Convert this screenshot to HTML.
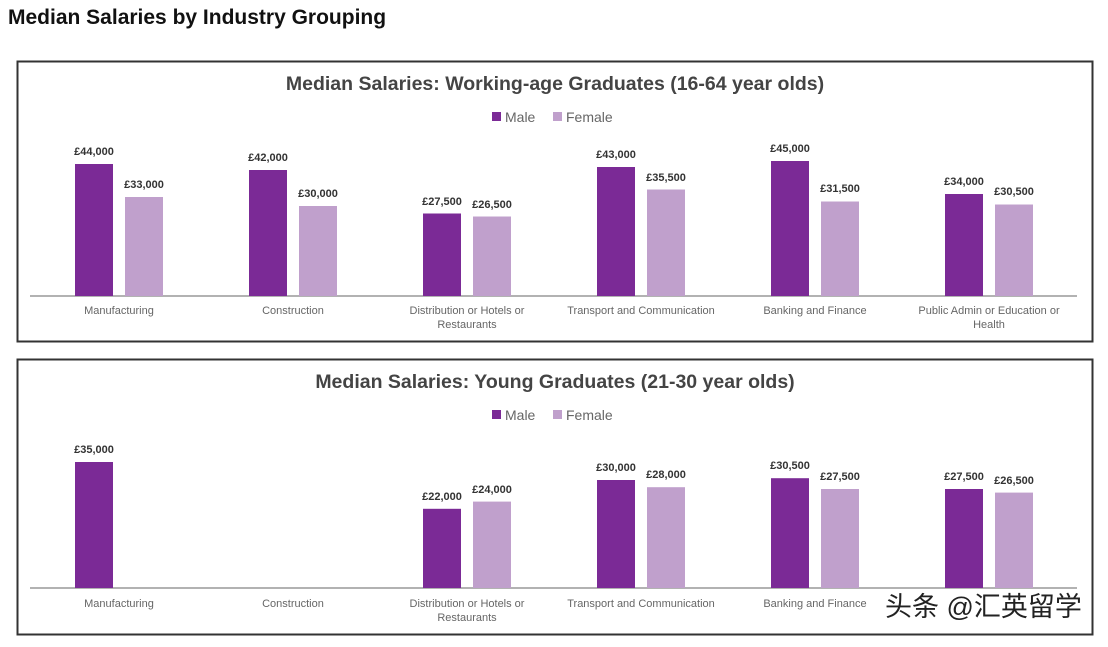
<!DOCTYPE html>
<html><head><meta charset="utf-8"><style>
body{margin:0;width:1108px;height:642px;background:#fff;overflow:hidden;font-family:"Liberation Sans",sans-serif;}
</style></head><body>
<svg width="1108" height="642" xmlns="http://www.w3.org/2000/svg" font-family="Liberation Sans, sans-serif">
<text x="8" y="24" font-size="21" font-weight="bold" fill="#111">Median Salaries by Industry Grouping</text>
<rect x="17.5" y="61.5" width="1075" height="280" fill="#fff" stroke="#333" stroke-width="2"/>
<rect x="17.5" y="359.5" width="1075" height="275" fill="#fff" stroke="#333" stroke-width="2"/>
<g font-weight="bold" fill="#444" text-anchor="middle" font-size="19.5">
<text x="555" y="90">Median Salaries: Working-age Graduates (16-64 year olds)</text>
<text x="555" y="388">Median Salaries: Young Graduates (21-30 year olds)</text>
</g>
<g font-size="14" fill="#666">
<rect x="492" y="112" width="9" height="9" fill="#7b2a96"/><text x="505" y="122">Male</text>
<rect x="553" y="112" width="9" height="9" fill="#c0a0cc"/><text x="566" y="122">Female</text>
<rect x="492" y="410" width="9" height="9" fill="#7b2a96"/><text x="505" y="420">Male</text>
<rect x="553" y="410" width="9" height="9" fill="#c0a0cc"/><text x="566" y="420">Female</text>
</g>
<line x1="30" y1="296" x2="1077" y2="296" stroke="#666" stroke-width="1"/>
<line x1="30" y1="588" x2="1077" y2="588" stroke="#666" stroke-width="1"/>
<g fill="#7b2a96">
<rect x="75" y="164" width="38" height="132"/>
<rect x="249" y="170" width="38" height="126"/>
<rect x="423" y="213.5" width="38" height="82.5"/>
<rect x="597" y="167" width="38" height="129"/>
<rect x="771" y="161" width="38" height="135"/>
<rect x="945" y="194" width="38" height="102"/>
<rect x="75" y="462" width="38" height="126"/>
<rect x="423" y="508.8" width="38" height="79.2"/>
<rect x="597" y="480" width="38" height="108"/>
<rect x="771" y="478.2" width="38" height="109.8"/>
<rect x="945" y="489" width="38" height="99"/>
</g>
<g fill="#c0a0cc">
<rect x="125" y="197" width="38" height="99"/>
<rect x="299" y="206" width="38" height="90"/>
<rect x="473" y="216.5" width="38" height="79.5"/>
<rect x="647" y="189.5" width="38" height="106.5"/>
<rect x="821" y="201.5" width="38" height="94.5"/>
<rect x="995" y="204.5" width="38" height="91.5"/>
<rect x="473" y="501.6" width="38" height="86.4"/>
<rect x="647" y="487.2" width="38" height="100.8"/>
<rect x="821" y="489" width="38" height="99"/>
<rect x="995" y="492.6" width="38" height="95.4"/>
</g>
<g font-size="11" font-weight="bold" fill="#333" text-anchor="middle">
<text x="94" y="155">£44,000</text><text x="144" y="188">£33,000</text>
<text x="268" y="161">£42,000</text><text x="318" y="197">£30,000</text>
<text x="442" y="205">£27,500</text><text x="492" y="208">£26,500</text>
<text x="616" y="158">£43,000</text><text x="666" y="181">£35,500</text>
<text x="790" y="152">£45,000</text><text x="840" y="192">£31,500</text>
<text x="964" y="185">£34,000</text><text x="1014" y="195">£30,500</text>
<text x="94" y="453">£35,000</text>
<text x="442" y="500">£22,000</text><text x="492" y="493">£24,000</text>
<text x="616" y="471">£30,000</text><text x="666" y="478">£28,000</text>
<text x="790" y="469">£30,500</text><text x="840" y="480">£27,500</text>
<text x="964" y="480">£27,500</text><text x="1014" y="484">£26,500</text>
</g>
<g font-size="11" fill="#666" text-anchor="middle">
<text x="119" y="314">Manufacturing</text><text x="293" y="314">Construction</text>
<text x="467" y="314">Distribution or Hotels or</text><text x="467" y="328">Restaurants</text>
<text x="641" y="314">Transport and Communication</text><text x="815" y="314">Banking and Finance</text>
<text x="989" y="314">Public Admin or Education or</text><text x="989" y="328">Health</text>
<text x="119" y="607">Manufacturing</text><text x="293" y="607">Construction</text>
<text x="467" y="607">Distribution or Hotels or</text><text x="467" y="621">Restaurants</text>
<text x="641" y="607">Transport and Communication</text><text x="815" y="607">Banking and Finance</text>
</g>
<text x="885" y="616" font-size="27" fill="#222" font-family="Liberation Sans, Noto Sans CJK SC, sans-serif">头条 @汇英留学</text>
</svg>
</body></html>
